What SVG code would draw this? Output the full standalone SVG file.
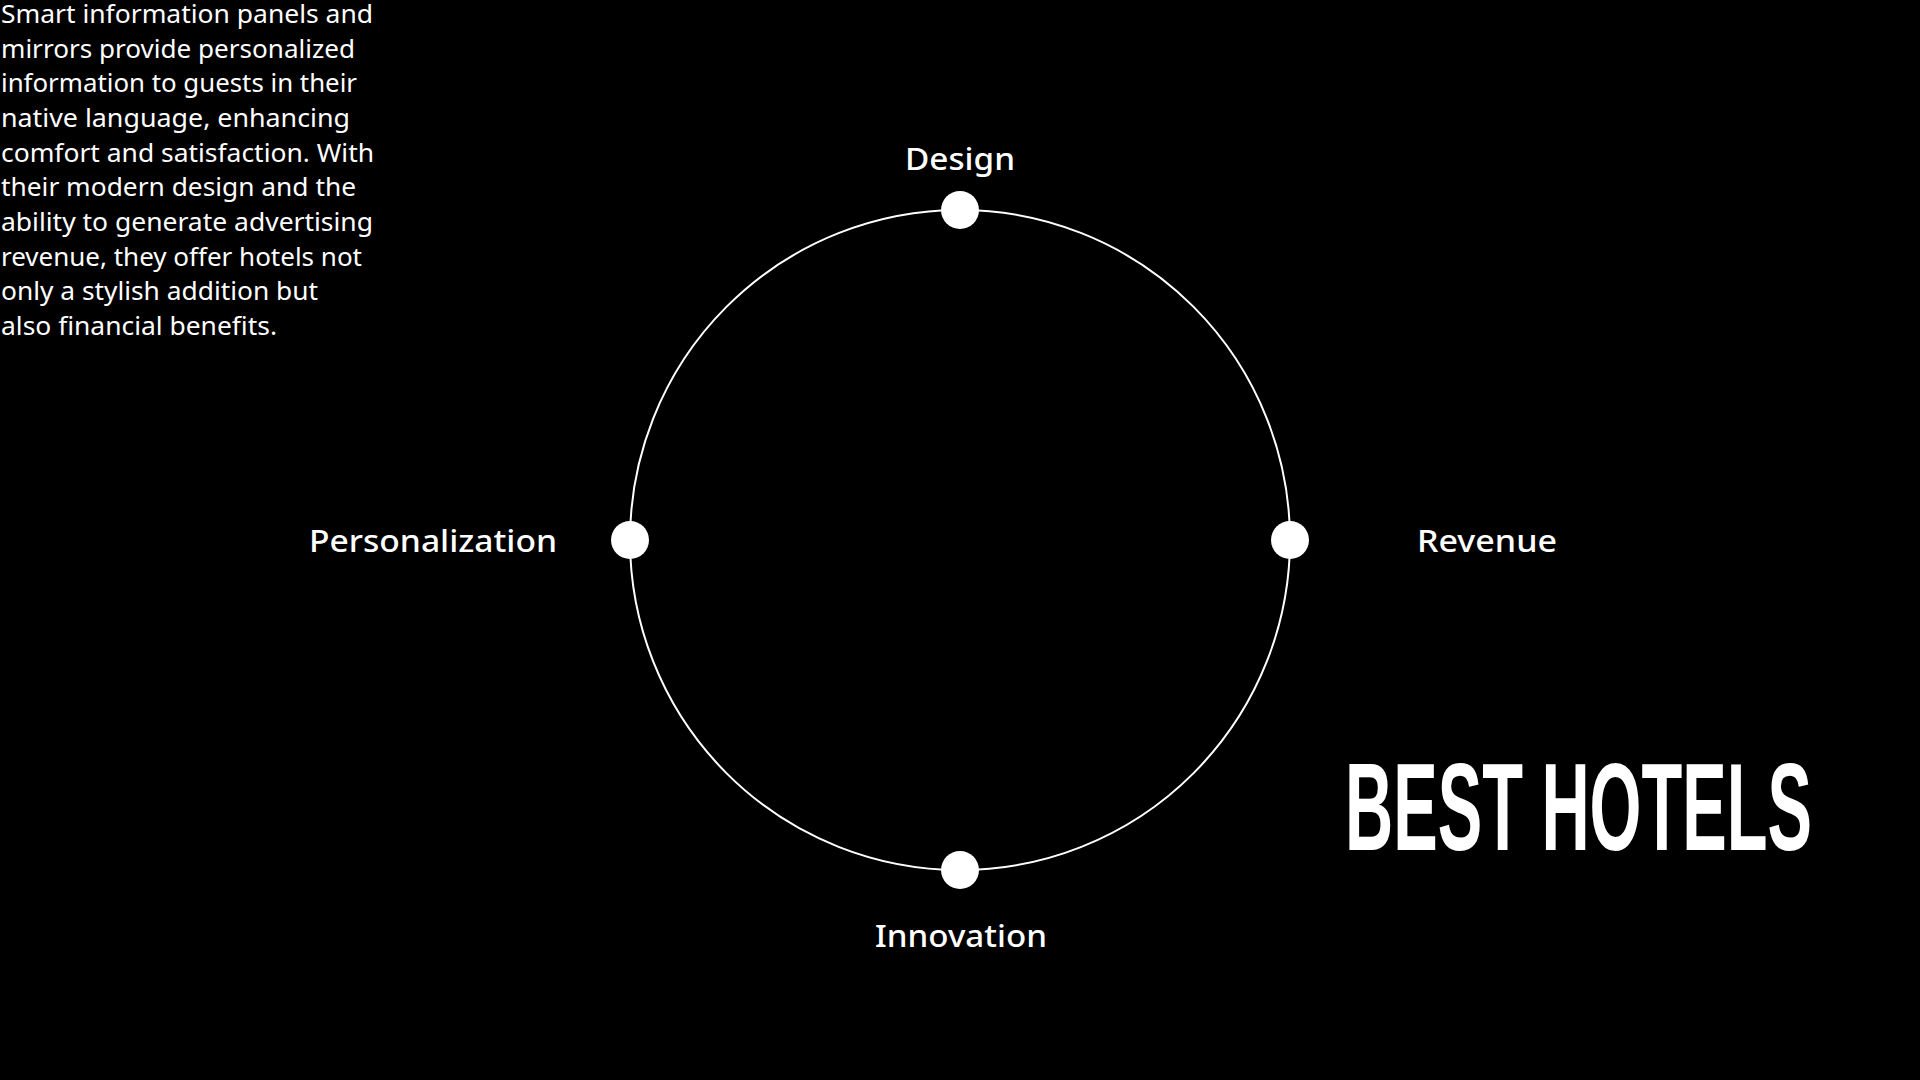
<svg xmlns="http://www.w3.org/2000/svg" width="1920" height="1080" viewBox="0 0 1920 1080">
<style>
.para{font-family:"Noto Sans","Open Sans",sans-serif;font-size:26px;fill:#fff}
.lbl{font-family:"Noto Sans","Open Sans",sans-serif;font-size:30px;fill:#fff;font-weight:500}
.dot{fill:#fff}
.title{font-family:"Liberation Sans",Arial,sans-serif;font-weight:bold;font-size:124px;fill:#fff}
</style>
<rect width="1920" height="1080" fill="#000"/>
<g id="description">
<text class="para" x="1" y="23" textLength="372" lengthAdjust="spacingAndGlyphs">Smart information panels and</text>
<text class="para" x="1" y="58" textLength="354" lengthAdjust="spacingAndGlyphs">mirrors provide personalized</text>
<text class="para" x="1" y="92" textLength="356" lengthAdjust="spacingAndGlyphs">information to guests in their</text>
<text class="para" x="1" y="127" textLength="349" lengthAdjust="spacingAndGlyphs">native language, enhancing</text>
<text class="para" x="1" y="162" textLength="373" lengthAdjust="spacingAndGlyphs">comfort and satisfaction. With</text>
<text class="para" x="1" y="196" textLength="355" lengthAdjust="spacingAndGlyphs">their modern design and the</text>
<text class="para" x="1" y="231" textLength="372" lengthAdjust="spacingAndGlyphs">ability to generate advertising</text>
<text class="para" x="1" y="266" textLength="361" lengthAdjust="spacingAndGlyphs">revenue, they offer hotels not</text>
<text class="para" x="1" y="300" textLength="317" lengthAdjust="spacingAndGlyphs">only a stylish addition but</text>
<text class="para" x="1" y="335" textLength="276" lengthAdjust="spacingAndGlyphs">also financial benefits.</text>
</g>
<g id="connectors">
<circle cx="960" cy="540" r="330" fill="none" stroke="#fff" stroke-width="2"/>
</g>
<g id="node-design">
<circle class="dot" cx="960" cy="210" r="19"/>
<text class="lbl" x="960" y="170" text-anchor="middle" textLength="110" lengthAdjust="spacingAndGlyphs">Design</text>
</g>
<g id="node-personalization">
<circle class="dot" cx="630" cy="540" r="19"/>
<text class="lbl" x="309" y="552" textLength="248" lengthAdjust="spacingAndGlyphs">Personalization</text>
</g>
<g id="node-revenue">
<circle class="dot" cx="1290" cy="540" r="19"/>
<text class="lbl" x="1417" y="552" textLength="140" lengthAdjust="spacingAndGlyphs">Revenue</text>
</g>
<g id="node-innovation">
<circle class="dot" cx="960" cy="870" r="19"/>
<text class="lbl" x="875" y="947" textLength="172" lengthAdjust="spacingAndGlyphs">Innovation</text>
</g>
<g id="title">
<text class="title" x="1345" y="850" textLength="467" lengthAdjust="spacingAndGlyphs">BEST HOTELS</text>
</g>
</svg>
